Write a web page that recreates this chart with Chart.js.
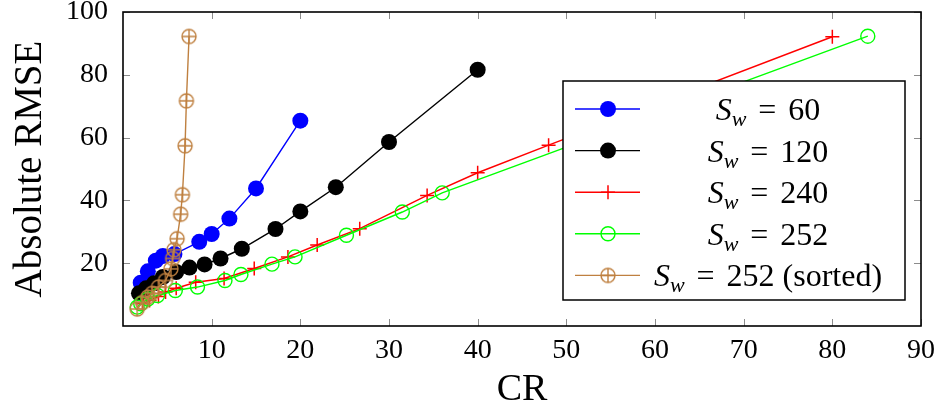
<!DOCTYPE html>
<html>
<head>
<meta charset="utf-8">
<script src="https://cdn.jsdelivr.net/npm/chart.js"></script>
<style>
  html, body { margin: 0; padding: 0; background: #fff; }
  #wrap { width: 942px; height: 419px; }
</style>
</head>
<body>
<div id="wrap"><canvas id="rmseChart" width="942" height="419"></canvas></div>
<script>
// values
var cr60 = [2.0, 2.8, 3.7, 4.5, 5.8, 8.6, 10.0, 12.0, 15.0, 20.0];
var rmse60 = [13.8, 17.4, 20.8, 22.3, 22.9, 26.8, 29.3, 34.2, 43.8, 65.4];

var cr120 = [1.8, 2.6, 3.5, 4.5, 6.0, 7.5, 9.2, 11.0, 13.4, 17.2, 20.0, 24.0, 30.0, 40.0];
var rmse120 = [10.4, 12.0, 13.6, 15.6, 17.2, 18.6, 19.6, 21.5, 24.6, 30.9, 36.5, 44.2, 58.6, 81.6];

var cr240 = [2.2, 3.0, 4.0, 4.8, 6.0, 8.2, 11.4, 14.8, 18.6, 21.9, 26.7, 34.3, 40.0, 48.0, 80.0];
var rmse240 = [7.1, 8.1, 9.4, 10.8, 12.0, 13.9, 15.1, 18.3, 22.0, 25.8, 31.0, 41.6, 48.8, 57.6, 92.1];

var cr252 = [1.6, 2.0, 2.8, 3.9, 5.9, 8.4, 11.5, 13.3, 16.8, 19.4, 25.2, 31.5, 36.0, 84.0];
var rmse252 = [6.0, 7.1, 8.6, 9.7, 11.3, 12.4, 14.5, 16.4, 19.7, 22.0, 28.9, 36.3, 42.4, 92.3];

var crSorted = [1.6, 2.2, 2.8, 3.3, 4.0, 4.8, 5.4, 5.6, 5.75, 6.1, 6.5, 6.7, 7.0, 7.15, 7.45];
var rmseSorted = [5.4, 7.5, 9.2, 10.4, 12.4, 14.5, 18.2, 21.5, 24.3, 27.8, 35.6, 41.8, 57.4, 71.7, 92.2];

var xTicks = [10, 20, 30, 40, 50, 60, 70, 80, 90];
var yTicks = [20, 40, 60, 80, 100];
var legendValues = ['60', '120', '240', '252', '252 (sorted)'];

var serif = "'Liberation Serif', 'DejaVu Serif', serif";
var brown = 'rgb(191,128,64)';

function toPoints(xs, ys){
    var pts = [];
    for (var i = 0; i < xs.length; i++){
        pts.push({x: xs[i], y: ys[i]});
    }
    return pts;
}

// circle with a plus inside (pgfplots "oplus" mark)
function oplusImage(){
    var c = document.createElement('canvas');
    c.width = 18;
    c.height = 18;
    var g = c.getContext('2d');
    g.strokeStyle = brown;
    g.lineWidth = 1.4;
    g.beginPath();
    g.arc(9, 9, 7, 0, Math.PI * 2);
    g.moveTo(2, 9); g.lineTo(16, 9);
    g.moveTo(9, 2); g.lineTo(9, 16);
    g.stroke();
    return c;
}
var oplus = oplusImage();

// ticks pointing inward on all four sides + frame
var framePlugin = {
    id: 'frame',
    afterDraw: function(chart){
        var ctx = chart.ctx;
        var a = chart.chartArea;
        var xs = chart.scales.x, ys = chart.scales.y;
        ctx.save();
        ctx.strokeStyle = '#8c8c8c';
        ctx.lineWidth = 1;
        ctx.beginPath();
        for (var i = 0; i < xTicks.length; i++){
            var px = Math.round(xs.getPixelForValue(xTicks[i])) + 0.5;
            ctx.moveTo(px, a.bottom); ctx.lineTo(px, a.bottom - 7);
            ctx.moveTo(px, a.top); ctx.lineTo(px, a.top + 7);
        }
        for (var j = 0; j < yTicks.length; j++){
            var py = Math.round(ys.getPixelForValue(yTicks[j])) + 0.5;
            ctx.moveTo(a.left, py); ctx.lineTo(a.left + 7, py);
            ctx.moveTo(a.right, py); ctx.lineTo(a.right - 7, py);
        }
        ctx.stroke();
        ctx.strokeStyle = '#000';
        ctx.lineWidth = 1.6;
        ctx.strokeRect(a.left, a.top, a.right - a.left, a.bottom - a.top);
        ctx.restore();
    }
};

function drawMarker(ctx, kind, color, x, y){
    ctx.save();
    if (kind == 'dot'){
        ctx.fillStyle = color;
        ctx.beginPath();
        ctx.arc(x, y, 8, 0, Math.PI * 2);
        ctx.fill();
    } else if (kind == 'cross'){
        ctx.strokeStyle = color;
        ctx.lineWidth = 1.5;
        ctx.beginPath();
        ctx.moveTo(x - 7, y); ctx.lineTo(x + 7, y);
        ctx.moveTo(x, y - 7); ctx.lineTo(x, y + 7);
        ctx.stroke();
    } else if (kind == 'ring'){
        ctx.strokeStyle = color;
        ctx.lineWidth = 1.4;
        ctx.beginPath();
        ctx.arc(x, y, 7, 0, Math.PI * 2);
        ctx.stroke();
    } else {
        ctx.drawImage(oplus, x - 9, y - 9);
    }
    ctx.restore();
}

// S_w = value, drawn piece by piece so the w sits as a subscript
function drawLegendText(ctx, value, cx, cy){
    var parts = [
        {t: 'S', f: 'italic 32px ' + serif, dy: 0, gap: 0},
        {t: 'w', f: 'italic 22px ' + serif, dy: 6, gap: 0},
        {t: '=', f: '32px ' + serif, dy: 0, gap: 12},
        {t: value, f: '32px ' + serif, dy: 0, gap: 12}
    ];
    var total = 0;
    for (var i = 0; i < parts.length; i++){
        ctx.font = parts[i].f;
        parts[i].w = ctx.measureText(parts[i].t).width;
        total += parts[i].gap + parts[i].w;
    }
    var x = cx - total / 2;
    ctx.fillStyle = '#000';
    ctx.textBaseline = 'alphabetic';
    ctx.textAlign = 'left';
    for (var k = 0; k < parts.length; k++){
        x += parts[k].gap;
        ctx.font = parts[k].f;
        ctx.fillText(parts[k].t, x, cy + 11 + parts[k].dy);
        x += parts[k].w;
    }
}

var legendPlugin = {
    id: 'boxLegend',
    afterDatasetsDraw: function(chart){
        var ctx = chart.ctx;
        var box = {left: 563, top: 81, right: 905, bottom: 300};
        ctx.save();
        ctx.fillStyle = '#fff';
        ctx.fillRect(box.left, box.top, box.right - box.left, box.bottom - box.top);
        ctx.strokeStyle = '#000';
        ctx.lineWidth = 1.5;
        ctx.strokeRect(box.left, box.top, box.right - box.left, box.bottom - box.top);
        var sets = chart.data.datasets;
        for (var i = 0; i < sets.length; i++){
            var ry = 109 + i * 41.6;
            ctx.strokeStyle = sets[i].borderColor;
            ctx.lineWidth = 1.4;
            ctx.beginPath();
            ctx.moveTo(575, ry); ctx.lineTo(640, ry);
            ctx.stroke();
            drawMarker(ctx, sets[i].markKind, sets[i].borderColor, 608, ry);
            drawLegendText(ctx, legendValues[i], 768, ry);
        }
        ctx.restore();
    }
};

var tickFont = {family: serif, size: 28};

var chart = new Chart(document.getElementById('rmseChart').getContext('2d'), {
    type: 'scatter',
    data: {
        datasets: [
        {
            data: toPoints(cr60, rmse60),
            markKind: 'dot',
            showLine: true,
            borderColor: 'rgb(0,0,255)',
            backgroundColor: 'rgb(0,0,255)',
            borderWidth: 1.4,
            pointStyle: 'circle',
            pointRadius: 8,
            pointBorderWidth: 0,
            order: 4
        },
        {
            data: toPoints(cr120, rmse120),
            markKind: 'dot',
            showLine: true,
            borderColor: '#000',
            backgroundColor: '#000',
            borderWidth: 1.4,
            pointStyle: 'circle',
            pointRadius: 8,
            pointBorderWidth: 0,
            order: 3
        },
        {
            data: toPoints(cr240, rmse240),
            markKind: 'cross',
            showLine: true,
            borderColor: 'rgb(255,0,0)',
            backgroundColor: 'rgb(255,0,0)',
            borderWidth: 1.5,
            pointStyle: 'cross',
            pointRadius: 7,
            pointBorderWidth: 1.5,
            order: 2
        },
        {
            data: toPoints(cr252, rmse252),
            markKind: 'ring',
            showLine: true,
            borderColor: 'rgb(0,255,0)',
            backgroundColor: 'rgba(0,0,0,0)',
            borderWidth: 1.4,
            pointStyle: 'circle',
            pointRadius: 7,
            pointBorderWidth: 1.4,
            order: 1
        },
        {
            data: toPoints(crSorted, rmseSorted),
            markKind: 'oplus',
            showLine: true,
            borderColor: brown,
            backgroundColor: brown,
            borderWidth: 1.4,
            pointStyle: oplus,
            pointRadius: 7,
            order: 0
        }]
    },
    options: {
        responsive: false,
        animation: false,
        events: [],
        layout: {padding: {top: 12, right: 21, left: 0, bottom: 0}},
        plugins: {
            legend: {display: false},
            tooltip: {enabled: false}
        },
        scales: {
            x: {
                type: 'linear',
                min: 0,
                max: 90,
                afterBuildTicks: function(s){
                    s.ticks = xTicks.map(function(v){ return {value: v}; });
                },
                afterFit: function(s){
                    s.height = 93;
                    s.paddingLeft = 0;
                    s.paddingRight = 0;
                },
                ticks: {
                    color: '#000',
                    font: tickFont,
                    padding: 8,
                    maxRotation: 0,
                    autoSkip: false
                },
                grid: {display: false, drawTicks: false},
                border: {display: false},
                title: {
                    display: true,
                    text: 'CR',
                    color: '#000',
                    font: {family: serif, size: 38},
                    padding: {top: 0, bottom: 6}
                }
            },
            y: {
                type: 'linear',
                min: 0,
                max: 100,
                afterBuildTicks: function(s){
                    s.ticks = yTicks.map(function(v){ return {value: v}; });
                },
                afterFit: function(s){
                    s.width = 123;
                    s.paddingTop = 0;
                    s.paddingBottom = 0;
                },
                ticks: {
                    color: '#000',
                    font: tickFont,
                    padding: 15,
                    autoSkip: false
                },
                grid: {display: false, drawTicks: false},
                border: {display: false},
                title: {
                    display: true,
                    text: 'Absolute RMSE',
                    color: '#000',
                    font: {family: serif, size: 39},
                    padding: {top: 7, bottom: 0}
                }
            }
        }
    },
    plugins: [legendPlugin, framePlugin]
});
</script>
</body>
</html>
